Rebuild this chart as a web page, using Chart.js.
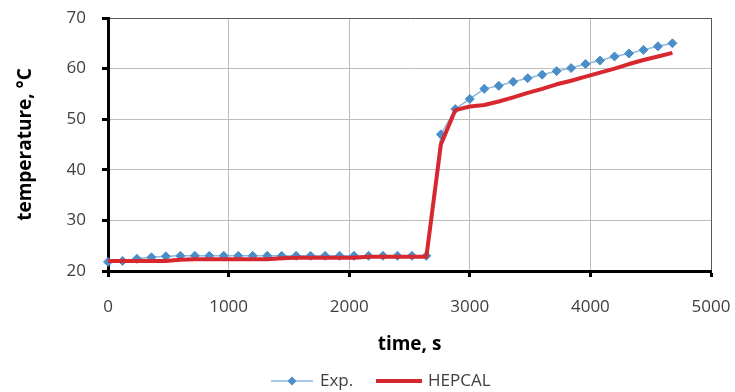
<!DOCTYPE html>
<html>
<head>
<meta charset="utf-8">
<script src="https://cdn.jsdelivr.net/npm/chart.js@4.4.1/dist/chart.umd.min.js"></script>
<style>
  html, body { margin: 0; padding: 0; background: #fff; }
  #wrap { width: 735px; height: 392px; }
</style>
</head>
<body>
<div id="wrap"><canvas id="tempChart" width="735" height="392"></canvas></div>
<script>
// time, s
const times = [0, 120, 240, 360, 480, 600, 720, 840, 960, 1080,
  1200, 1320, 1440, 1560, 1680, 1800, 1920, 2040, 2160, 2280,
  2400, 2520, 2640, 2760, 2880, 3000, 3120, 3240, 3360, 3480,
  3600, 3720, 3840, 3960, 4080, 4200, 4320, 4440, 4560, 4680];

// measured temperature
const expValues = [21.8, 22.0, 22.4, 22.7, 22.9, 23.0, 23.0, 23.0, 23.0, 23.0,
  23.0, 23.0, 23.0, 23.0, 23.0, 23.0, 23.0, 23.0, 23.0, 23.0,
  23.0, 23.0, 23.0, 47.0, 52.0, 54.0, 56.0, 56.6, 57.4, 58.1,
  58.8, 59.5, 60.1, 60.9, 61.6, 62.4, 63.0, 63.7, 64.4, 65.0];

// HEPCAL calculation
const hepcalValues = [22.0, 22.0, 22.0, 22.0, 22.0, 22.2, 22.3, 22.3, 22.3, 22.3,
  22.3, 22.3, 22.5, 22.6, 22.6, 22.6, 22.6, 22.6, 22.8, 22.8,
  22.8, 22.8, 22.8, 45.0, 51.8, 52.5, 52.8, 53.5, 54.3, 55.2,
  56.0, 56.9, 57.6, 58.4, 59.2, 60.0, 60.9, 61.7, 62.4, 63.1];

const xTicks = [0, 1000, 2000, 3000, 4000, 5000];
const yTicks = [20, 30, 40, 50, 60, 70];

const blue = "#4a8ec8";
const blueLine = "#8db8de";
const red = "#d8282f";
const font = '"Open Sans", "Noto Sans", sans-serif';

const pairs = (xs, ys) => xs.map((x, i) => ({ x: x, y: ys[i] }));

// legend under the axis title, drawn by hand to get the Excel look
const bottomLegend = {
  id: "bottomLegend",
  afterDraw(chart) {
    const ctx = chart.ctx;
    const y = 381;
    ctx.save();
    ctx.strokeStyle = blueLine;
    ctx.lineWidth = 1.5;
    ctx.beginPath(); ctx.moveTo(271, y); ctx.lineTo(313, y); ctx.stroke();
    ctx.fillStyle = blue;
    ctx.beginPath();
    ctx.moveTo(292, y - 4.5); ctx.lineTo(296.5, y); ctx.lineTo(292, y + 4.5); ctx.lineTo(287.5, y);
    ctx.closePath(); ctx.fill();
    ctx.strokeStyle = red;
    ctx.lineWidth = 4;
    ctx.beginPath(); ctx.moveTo(376, y); ctx.lineTo(422, y); ctx.stroke();
    ctx.fillStyle = "#404040";
    ctx.font = "17px " + font;
    ctx.textBaseline = "middle";
    ctx.fillText("Exp.", 320, y);
    ctx.fillText("HEPCAL", 428, y);
    ctx.restore();
  }
};

new Chart(document.getElementById("tempChart"), {
  type: "line",
  data: {
    datasets: [
      { label: "Exp.", data: pairs(times, expValues), borderColor: blueLine, borderWidth: 1.5,
        pointStyle: "rectRot", pointRadius: 4.5, pointBackgroundColor: blue, pointBorderColor: blue,
        pointBorderWidth: 1, tension: 0, clip: false, order: 2 },
      { label: "HEPCAL", data: pairs(times, hepcalValues), borderColor: red, borderWidth: 4,
        pointRadius: 0, tension: 0, clip: false, order: 1, borderJoinStyle: "round" }
    ]
  },
  options: {
    responsive: false,
    animation: false,
    layout: { autoPadding: false, padding: { left: 0, top: 18, right: 24, bottom: 36 } },
    plugins: { legend: { display: false }, tooltip: { enabled: false } },
    scales: {
      x: {
        type: "linear", min: 0, max: 5000,
        afterBuildTicks: s => { s.ticks = xTicks.map(v => ({ value: v })); },
        afterFit: s => { s.height = 85; s.paddingLeft = 0; s.paddingRight = 0; },
        ticks: { color: "#404040", font: { family: font, size: 17 }, padding: 20, maxRotation: 0,
          callback: v => String(v) },
        grid: { color: c => c.tick && c.tick.value === 5000 ? "#595959" : "#bdbdbd", lineWidth: 1,
          tickColor: "#000", tickWidth: 3, tickLength: 6 },
        border: { color: "#000", width: 3 },
        title: { display: true, text: "time, s", color: "#000",
          font: { family: font, size: 19, weight: "bold" }, padding: { top: 0, bottom: 0 } }
      },
      y: {
        min: 20, max: 70,
        afterBuildTicks: s => { s.ticks = yTicks.map(v => ({ value: v })); },
        afterFit: s => { s.width = 108; s.paddingTop = 0; s.paddingBottom = 0; },
        ticks: { color: "#404040", font: { family: font, size: 17 }, padding: 16,
          callback: v => String(v) },
        grid: { color: c => c.tick && c.tick.value === 70 ? "#595959" : "#bdbdbd", lineWidth: 1,
          tickColor: "#000", tickWidth: 3, tickLength: 6 },
        border: { color: "#000", width: 3 },
        title: { display: true, text: "temperature, °C", color: "#000",
          font: { family: font, size: 19, weight: "bold" }, padding: { top: 14, bottom: 0 } }
      }
    }
  },
  plugins: [bottomLegend]
});
</script>
</body>
</html>
